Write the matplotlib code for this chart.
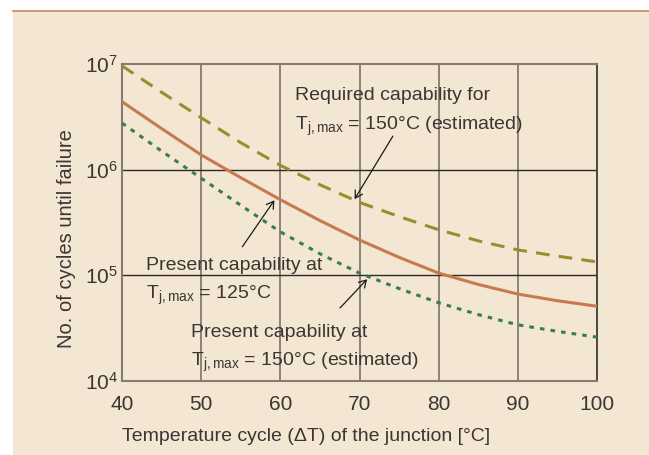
import numpy as np
import matplotlib
matplotlib.use("Agg")
import matplotlib.pyplot as plt
from matplotlib.patches import Rectangle
from matplotlib.ticker import FixedLocator, FuncFormatter

# data
temp = [40, 45, 50, 55, 60, 65, 70, 75, 80, 85, 90, 95, 100]
required_150 = [9.6e6, 5.4e6, 3.1e6, 1.8e6, 1.1e6, 7.2e5, 4.9e5, 3.6e5, 2.7e5, 2.12e5, 1.74e5, 1.52e5, 1.34e5]
present_125 = [4.4e6, 2.45e6, 1.38e6, 8.4e5, 5.2e5, 3.3e5, 2.16e5, 1.48e5, 1.05e5, 8.2e4, 6.65e4, 5.75e4, 5.1e4]
present_150 = [2.76e6, 1.5e6, 8.3e5, 4.6e5, 2.58e5, 1.6e5, 1.05e5, 7.5e4, 5.5e4, 4.25e4, 3.4e4, 2.95e4, 2.6e4]
x_ticks = [40, 50, 60, 70, 80, 90, 100]
y_ticks = [1e4, 1e5, 1e6, 1e7]

BG = "#f3e7d3"
TXT = "#3b3632"
GRID_V = "#857b72"
GRID_H = "#2e2a27"

plt.rcParams["font.family"] = ["Liberation Sans", "DejaVu Sans"]
plt.rcParams["mathtext.fontset"] = "custom"
plt.rcParams["mathtext.rm"] = "Liberation Sans"
plt.rcParams["mathtext.it"] = "Liberation Sans"

fig = plt.figure(figsize=(6.49, 4.55), dpi=100)
fig.patch.set_facecolor("white")
# beige panel with brown top rule
fig.add_artist(Rectangle((13 / 649, 0), 1 - 13 / 649, (455 - 11) / 455,
                         transform=fig.transFigure, facecolor=BG, edgecolor="none", zorder=-10))
fig.add_artist(plt.Line2D([13 / 649, 1], [(455 - 11) / 455] * 2, transform=fig.transFigure,
                          color="#c8876a", lw=1.2, zorder=-5))

ax = fig.add_axes([122 / 649, (455 - 381) / 455, (597 - 122) / 649, (381 - 64) / 455])
ax.set_facecolor(BG)
ax.set_yscale("log")
ax.set_xlim(40, 100)
ax.set_ylim(1e4, 1e7)

for xv in x_ticks[1:-1]:
    ax.axvline(xv, color=GRID_V, lw=1.3, zorder=1)
for yv in y_ticks[1:-1]:
    ax.axhline(yv, color=GRID_H, lw=1.0, zorder=1)

ax.plot(temp, required_150, color="#9b8d2f", lw=2.2, ls=(0, (4.5, 3)), zorder=3)
ax.plot(temp, present_125, color="#c67a4e", lw=2.2, zorder=3)
ax.plot(temp, present_150, color="#3a7d4b", lw=2.2, ls=(0, (1.5, 2)), zorder=3)

for side in ["left", "bottom", "top"]:
    ax.spines[side].set_color(GRID_V)
    ax.spines[side].set_linewidth(1.5)
ax.spines["right"].set_color(GRID_H)
ax.spines["right"].set_linewidth(1.2)

ax.xaxis.set_major_locator(FixedLocator(x_ticks))
ax.yaxis.set_major_locator(FixedLocator(y_ticks))
ax.yaxis.set_minor_locator(FixedLocator([]))
ax.yaxis.set_major_formatter(FuncFormatter(
    lambda v, p: r"$\mathregular{10^{%d}}$" % round(np.log10(v))))
ax.tick_params(length=0, labelsize=15, labelcolor=TXT)
ax.tick_params(axis="x", pad=10)
ax.tick_params(axis="y", pad=3)
ax.set_xlabel("Temperature cycle (\u0394T) of the junction [\u00b0C]", fontsize=14,
              color=TXT, ha="left")
ax.xaxis.set_label_coords(0.0, -0.148)
ax.set_ylabel("No. of cycles until failure", fontsize=14.5, color=TXT)
ax.yaxis.set_label_coords(-0.097, 0.45)

# annotations
fs = 14
ax.text(61.85, 10 ** 6.66, "Required capability for", fontsize=fs, color=TXT,
        va="baseline", zorder=4)
ax.text(61.85, 10 ** 6.375, r"T$_{\mathregular{j,max}}$ = 150°C (estimated)", fontsize=fs,
        color=TXT, va="baseline", zorder=4)
ax.annotate("", xy=(69.2, 5.0e5), xytext=(74.4, 10 ** 6.34),
            arrowprops=dict(arrowstyle="->,head_length=0.5,head_width=0.3",
                            color="#1a1a1a", lw=0.9), zorder=5)

ax.text(43.0, 10 ** 5.05, "Present capability at", fontsize=fs, color=TXT,
        va="baseline", zorder=4)
ax.text(43.0, 10 ** 4.776, r"T$_{\mathregular{j,max}}$ = 125°C", fontsize=fs,
        color=TXT, va="baseline", zorder=4)
ax.annotate("", xy=(59.45, 5.4e5), xytext=(55.0, 10 ** 5.249),
            arrowprops=dict(arrowstyle="->,head_length=0.5,head_width=0.3",
                            color="#1a1a1a", lw=0.9), zorder=5)

ax.text(48.7, 10 ** 4.417, "Present capability at", fontsize=fs, color=TXT,
        va="baseline", zorder=4)
ax.text(48.7, 10 ** 4.142, r"T$_{\mathregular{j,max}}$ = 150°C (estimated)", fontsize=fs,
        color=TXT, va="baseline", zorder=4)
ax.annotate("", xy=(71.2, 9.6e4), xytext=(67.3, 10 ** 4.672),
            arrowprops=dict(arrowstyle="->,head_length=0.5,head_width=0.3",
                            color="#1a1a1a", lw=0.9), zorder=5)

fig.savefig("out.png", dpi=100, facecolor=fig.get_facecolor())
